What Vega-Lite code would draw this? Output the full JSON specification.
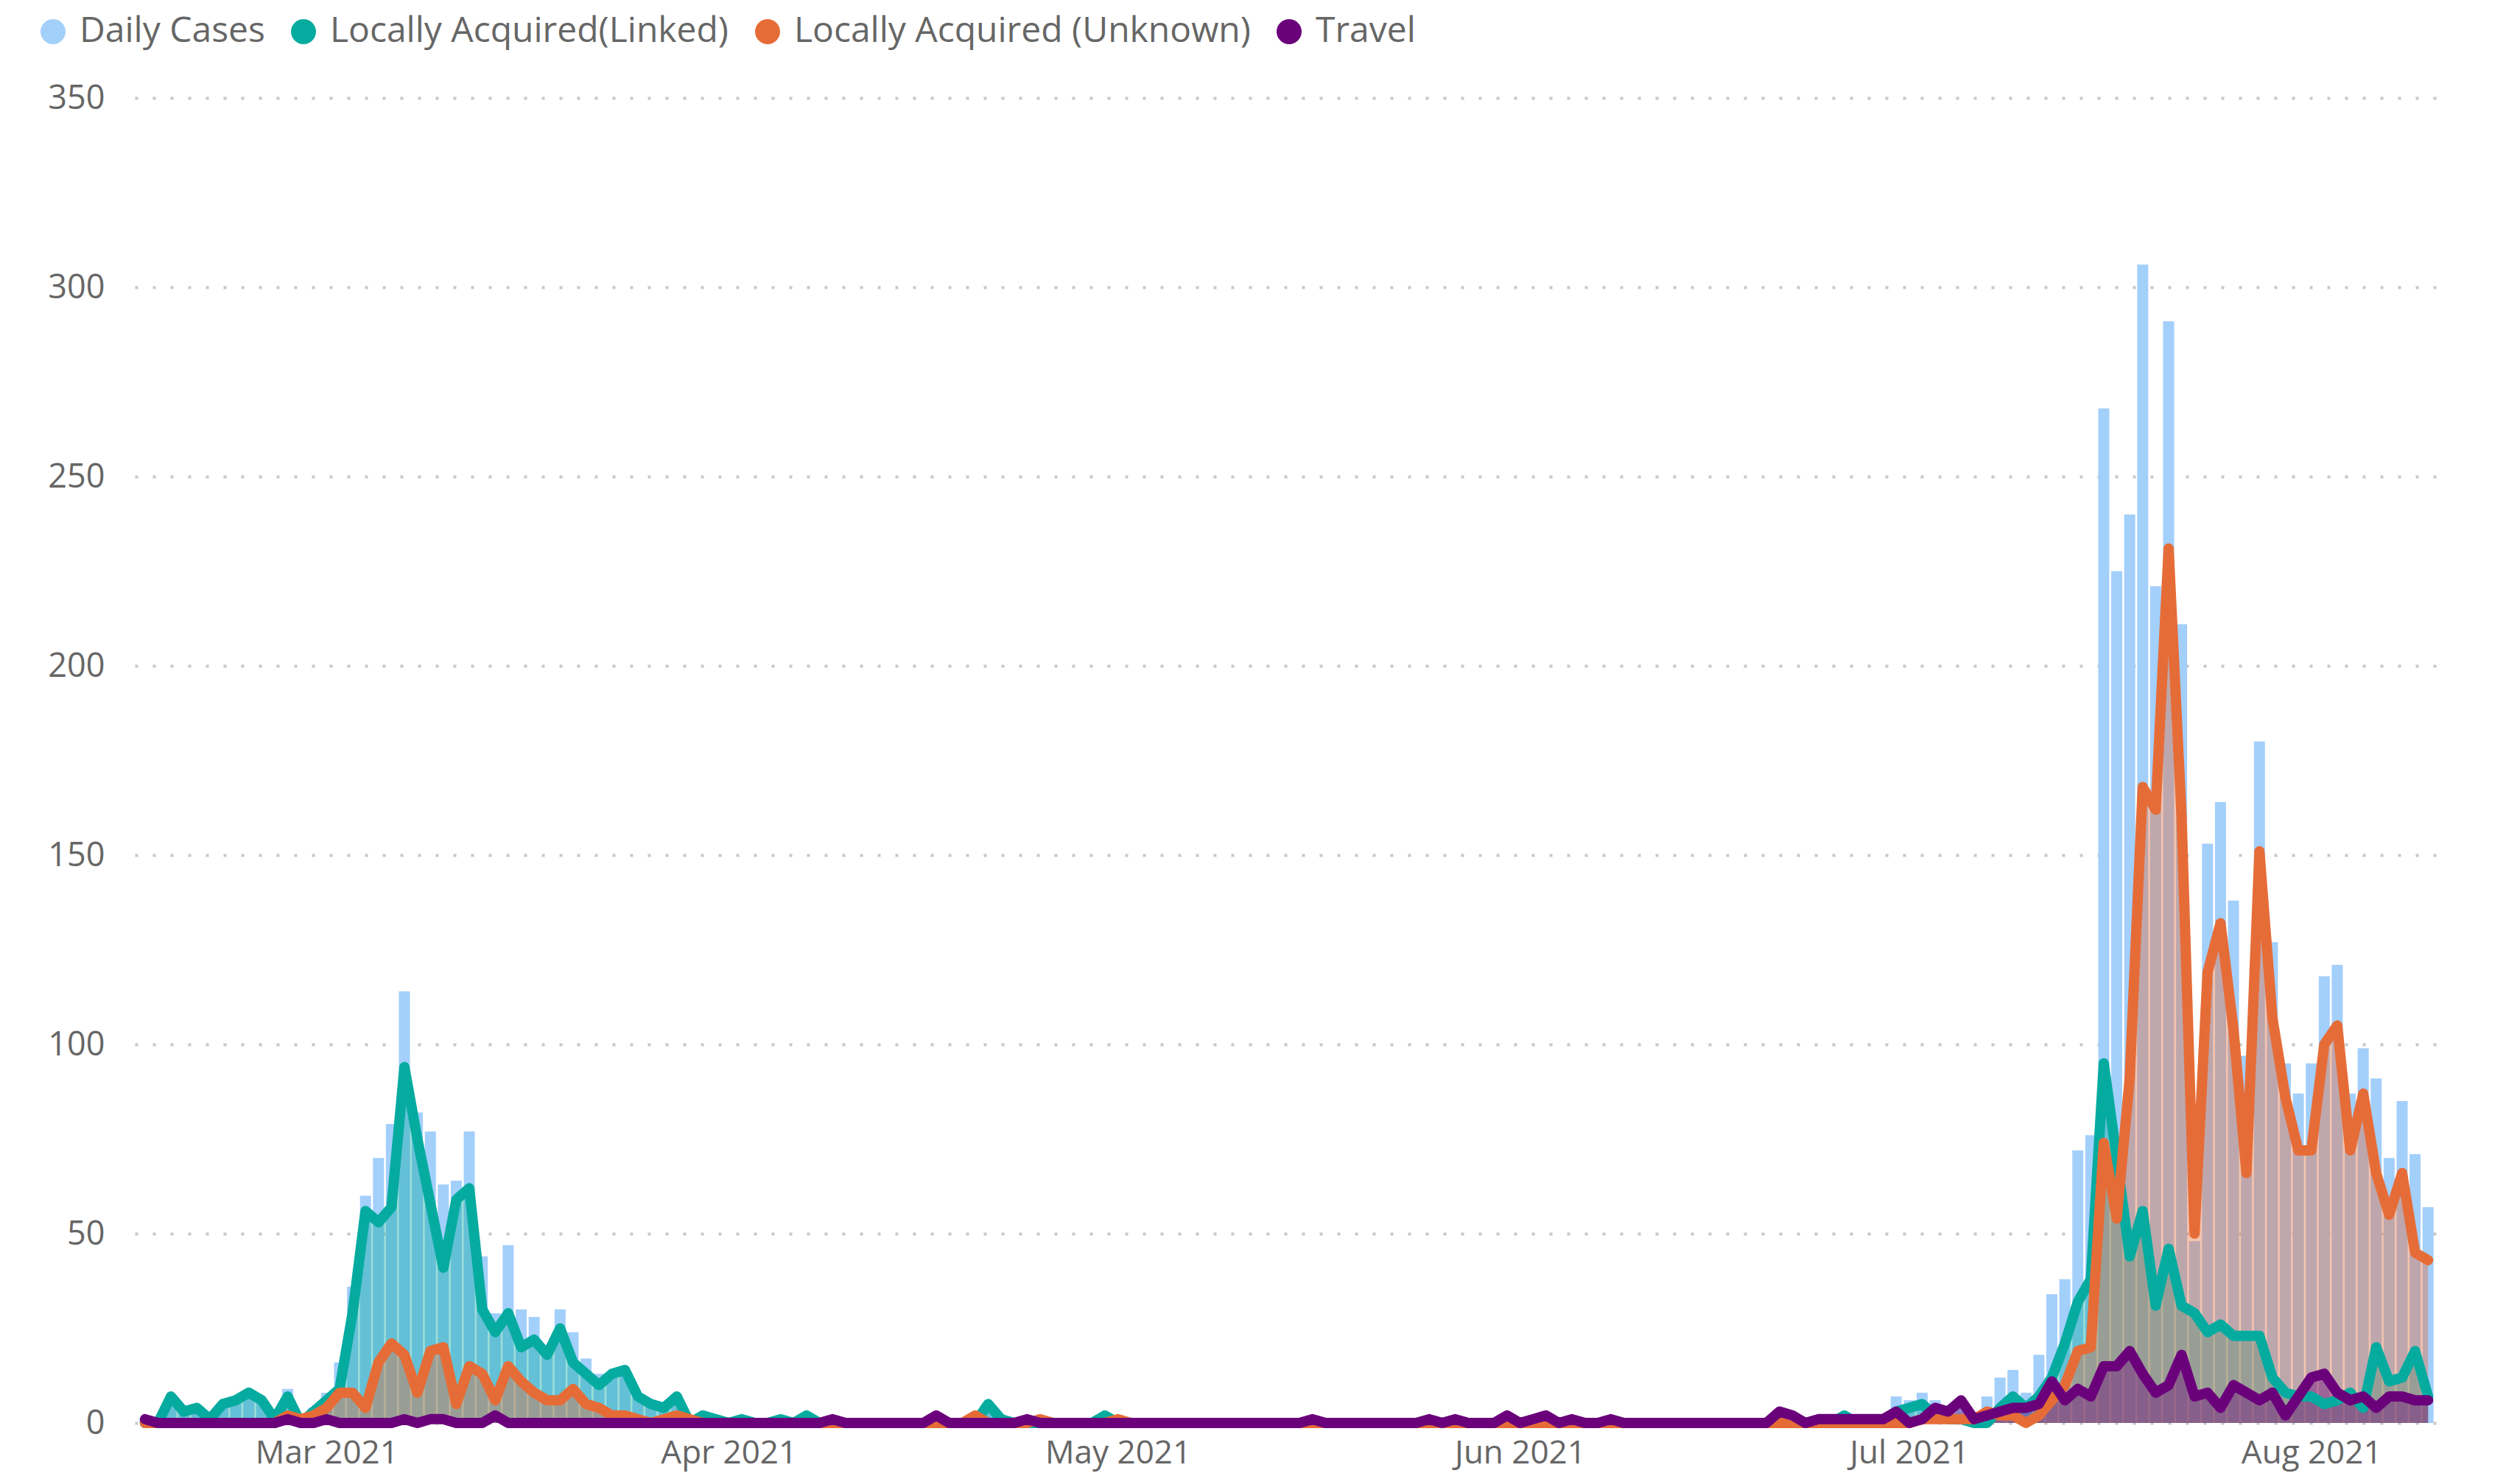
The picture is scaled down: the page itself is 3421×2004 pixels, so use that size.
{
  "$schema": "https://vega.github.io/schema/vega-lite/v6.json",
  "width": 3127,
  "height": 1799,
  "autosize": {"type": "none"},
  "padding": {"left": 183, "top": 133, "right": 111, "bottom": 72},
  "background": "white",
  "config": {"view": {"stroke": null}, "font": "Open Sans"},
  "data": {"values": [
    {"date":"2021/02/15","daily":1,"linked":0,"unknown":0,"travel":1},
    {"date":"2021/02/16","daily":0,"linked":0,"unknown":0,"travel":0},
    {"date":"2021/02/17","daily":7,"linked":7,"unknown":0,"travel":0},
    {"date":"2021/02/18","daily":3,"linked":3,"unknown":0,"travel":0},
    {"date":"2021/02/19","daily":4,"linked":4,"unknown":0,"travel":0},
    {"date":"2021/02/20","daily":1,"linked":1,"unknown":0,"travel":0},
    {"date":"2021/02/21","daily":5,"linked":5,"unknown":0,"travel":0},
    {"date":"2021/02/22","daily":6,"linked":6,"unknown":0,"travel":0},
    {"date":"2021/02/23","daily":8,"linked":8,"unknown":0,"travel":0},
    {"date":"2021/02/24","daily":6,"linked":6,"unknown":0,"travel":0},
    {"date":"2021/02/25","daily":1,"linked":1,"unknown":0,"travel":0},
    {"date":"2021/02/26","daily":9,"linked":7,"unknown":2,"travel":1},
    {"date":"2021/02/27","daily":1,"linked":0,"unknown":1,"travel":0},
    {"date":"2021/02/28","daily":4,"linked":3,"unknown":2,"travel":0},
    {"date":"2021/03/01","daily":8,"linked":6,"unknown":4,"travel":1},
    {"date":"2021/03/02","daily":16,"linked":9,"unknown":8,"travel":0},
    {"date":"2021/03/03","daily":36,"linked":29,"unknown":8,"travel":0},
    {"date":"2021/03/04","daily":60,"linked":56,"unknown":4,"travel":0},
    {"date":"2021/03/05","daily":70,"linked":53,"unknown":16,"travel":0},
    {"date":"2021/03/06","daily":79,"linked":57,"unknown":21,"travel":0},
    {"date":"2021/03/07","daily":114,"linked":94,"unknown":18,"travel":1},
    {"date":"2021/03/08","daily":82,"linked":75,"unknown":8,"travel":0},
    {"date":"2021/03/09","daily":77,"linked":58,"unknown":19,"travel":1},
    {"date":"2021/03/10","daily":63,"linked":41,"unknown":20,"travel":1},
    {"date":"2021/03/11","daily":64,"linked":59,"unknown":5,"travel":0},
    {"date":"2021/03/12","daily":77,"linked":62,"unknown":15,"travel":0},
    {"date":"2021/03/13","daily":44,"linked":30,"unknown":13,"travel":0},
    {"date":"2021/03/14","daily":29,"linked":24,"unknown":6,"travel":2},
    {"date":"2021/03/15","daily":47,"linked":29,"unknown":15,"travel":0},
    {"date":"2021/03/16","daily":30,"linked":20,"unknown":11,"travel":0},
    {"date":"2021/03/17","daily":28,"linked":22,"unknown":8,"travel":0},
    {"date":"2021/03/18","daily":18,"linked":18,"unknown":6,"travel":0},
    {"date":"2021/03/19","daily":30,"linked":25,"unknown":6,"travel":0},
    {"date":"2021/03/20","daily":24,"linked":16,"unknown":9,"travel":0},
    {"date":"2021/03/21","daily":17,"linked":13,"unknown":5,"travel":0},
    {"date":"2021/03/22","daily":13,"linked":10,"unknown":4,"travel":0},
    {"date":"2021/03/23","daily":13,"linked":13,"unknown":2,"travel":0},
    {"date":"2021/03/24","daily":14,"linked":14,"unknown":2,"travel":0},
    {"date":"2021/03/25","daily":7,"linked":7,"unknown":1,"travel":0},
    {"date":"2021/03/26","daily":5,"linked":5,"unknown":0,"travel":0},
    {"date":"2021/03/27","daily":4,"linked":4,"unknown":1,"travel":0},
    {"date":"2021/03/28","daily":7,"linked":7,"unknown":2,"travel":0},
    {"date":"2021/03/29","daily":1,"linked":0,"unknown":1,"travel":0},
    {"date":"2021/03/30","daily":2,"linked":2,"unknown":0,"travel":0},
    {"date":"2021/03/31","daily":1,"linked":1,"unknown":0,"travel":0},
    {"date":"2021/04/01","daily":0,"linked":0,"unknown":0,"travel":0},
    {"date":"2021/04/02","daily":1,"linked":1,"unknown":0,"travel":0},
    {"date":"2021/04/03","daily":0,"linked":0,"unknown":0,"travel":0},
    {"date":"2021/04/04","daily":0,"linked":0,"unknown":0,"travel":0},
    {"date":"2021/04/05","daily":1,"linked":1,"unknown":0,"travel":0},
    {"date":"2021/04/06","daily":0,"linked":0,"unknown":0,"travel":0},
    {"date":"2021/04/07","daily":2,"linked":2,"unknown":0,"travel":0},
    {"date":"2021/04/08","daily":0,"linked":0,"unknown":0,"travel":0},
    {"date":"2021/04/09","daily":1,"linked":0,"unknown":0,"travel":1},
    {"date":"2021/04/10","daily":0,"linked":0,"unknown":0,"travel":0},
    {"date":"2021/04/11","daily":0,"linked":0,"unknown":0,"travel":0},
    {"date":"2021/04/12","daily":0,"linked":0,"unknown":0,"travel":0},
    {"date":"2021/04/13","daily":0,"linked":0,"unknown":0,"travel":0},
    {"date":"2021/04/14","daily":0,"linked":0,"unknown":0,"travel":0},
    {"date":"2021/04/15","daily":0,"linked":0,"unknown":0,"travel":0},
    {"date":"2021/04/16","daily":0,"linked":0,"unknown":0,"travel":0},
    {"date":"2021/04/17","daily":2,"linked":0,"unknown":0,"travel":2},
    {"date":"2021/04/18","daily":0,"linked":0,"unknown":0,"travel":0},
    {"date":"2021/04/19","daily":0,"linked":0,"unknown":0,"travel":0},
    {"date":"2021/04/20","daily":2,"linked":0,"unknown":2,"travel":0},
    {"date":"2021/04/21","daily":5,"linked":5,"unknown":0,"travel":0},
    {"date":"2021/04/22","daily":1,"linked":1,"unknown":0,"travel":0},
    {"date":"2021/04/23","daily":0,"linked":0,"unknown":0,"travel":0},
    {"date":"2021/04/24","daily":1,"linked":0,"unknown":0,"travel":1},
    {"date":"2021/04/25","daily":1,"linked":0,"unknown":1,"travel":0},
    {"date":"2021/04/26","daily":0,"linked":0,"unknown":0,"travel":0},
    {"date":"2021/04/27","daily":0,"linked":0,"unknown":0,"travel":0},
    {"date":"2021/04/28","daily":0,"linked":0,"unknown":0,"travel":0},
    {"date":"2021/04/29","daily":0,"linked":0,"unknown":0,"travel":0},
    {"date":"2021/04/30","daily":2,"linked":2,"unknown":0,"travel":0},
    {"date":"2021/05/01","daily":1,"linked":0,"unknown":1,"travel":0},
    {"date":"2021/05/02","daily":0,"linked":0,"unknown":0,"travel":0},
    {"date":"2021/05/03","daily":0,"linked":0,"unknown":0,"travel":0},
    {"date":"2021/05/04","daily":0,"linked":0,"unknown":0,"travel":0},
    {"date":"2021/05/05","daily":0,"linked":0,"unknown":0,"travel":0},
    {"date":"2021/05/06","daily":0,"linked":0,"unknown":0,"travel":0},
    {"date":"2021/05/07","daily":0,"linked":0,"unknown":0,"travel":0},
    {"date":"2021/05/08","daily":0,"linked":0,"unknown":0,"travel":0},
    {"date":"2021/05/09","daily":0,"linked":0,"unknown":0,"travel":0},
    {"date":"2021/05/10","daily":0,"linked":0,"unknown":0,"travel":0},
    {"date":"2021/05/11","daily":0,"linked":0,"unknown":0,"travel":0},
    {"date":"2021/05/12","daily":0,"linked":0,"unknown":0,"travel":0},
    {"date":"2021/05/13","daily":0,"linked":0,"unknown":0,"travel":0},
    {"date":"2021/05/14","daily":0,"linked":0,"unknown":0,"travel":0},
    {"date":"2021/05/15","daily":0,"linked":0,"unknown":0,"travel":0},
    {"date":"2021/05/16","daily":1,"linked":0,"unknown":0,"travel":1},
    {"date":"2021/05/17","daily":0,"linked":0,"unknown":0,"travel":0},
    {"date":"2021/05/18","daily":0,"linked":0,"unknown":0,"travel":0},
    {"date":"2021/05/19","daily":0,"linked":0,"unknown":0,"travel":0},
    {"date":"2021/05/20","daily":0,"linked":0,"unknown":0,"travel":0},
    {"date":"2021/05/21","daily":0,"linked":0,"unknown":0,"travel":0},
    {"date":"2021/05/22","daily":0,"linked":0,"unknown":0,"travel":0},
    {"date":"2021/05/23","daily":0,"linked":0,"unknown":0,"travel":0},
    {"date":"2021/05/24","daily":0,"linked":0,"unknown":0,"travel":0},
    {"date":"2021/05/25","daily":1,"linked":0,"unknown":0,"travel":1},
    {"date":"2021/05/26","daily":0,"linked":0,"unknown":0,"travel":0},
    {"date":"2021/05/27","daily":1,"linked":0,"unknown":0,"travel":1},
    {"date":"2021/05/28","daily":0,"linked":0,"unknown":0,"travel":0},
    {"date":"2021/05/29","daily":0,"linked":0,"unknown":0,"travel":0},
    {"date":"2021/05/30","daily":0,"linked":0,"unknown":0,"travel":0},
    {"date":"2021/05/31","daily":2,"linked":0,"unknown":0,"travel":2},
    {"date":"2021/06/01","daily":0,"linked":0,"unknown":0,"travel":0},
    {"date":"2021/06/02","daily":1,"linked":0,"unknown":0,"travel":1},
    {"date":"2021/06/03","daily":2,"linked":0,"unknown":0,"travel":2},
    {"date":"2021/06/04","daily":0,"linked":0,"unknown":0,"travel":0},
    {"date":"2021/06/05","daily":1,"linked":0,"unknown":0,"travel":1},
    {"date":"2021/06/06","daily":0,"linked":0,"unknown":0,"travel":0},
    {"date":"2021/06/07","daily":0,"linked":0,"unknown":0,"travel":0},
    {"date":"2021/06/08","daily":1,"linked":0,"unknown":0,"travel":1},
    {"date":"2021/06/09","daily":0,"linked":0,"unknown":0,"travel":0},
    {"date":"2021/06/10","daily":0,"linked":0,"unknown":0,"travel":0},
    {"date":"2021/06/11","daily":0,"linked":0,"unknown":0,"travel":0},
    {"date":"2021/06/12","daily":0,"linked":0,"unknown":0,"travel":0},
    {"date":"2021/06/13","daily":0,"linked":0,"unknown":0,"travel":0},
    {"date":"2021/06/14","daily":0,"linked":0,"unknown":0,"travel":0},
    {"date":"2021/06/15","daily":0,"linked":0,"unknown":0,"travel":0},
    {"date":"2021/06/16","daily":0,"linked":0,"unknown":0,"travel":0},
    {"date":"2021/06/17","daily":0,"linked":0,"unknown":0,"travel":0},
    {"date":"2021/06/18","daily":0,"linked":0,"unknown":0,"travel":0},
    {"date":"2021/06/19","daily":0,"linked":0,"unknown":0,"travel":0},
    {"date":"2021/06/20","daily":0,"linked":0,"unknown":0,"travel":0},
    {"date":"2021/06/21","daily":3,"linked":0,"unknown":0,"travel":3},
    {"date":"2021/06/22","daily":2,"linked":0,"unknown":0,"travel":2},
    {"date":"2021/06/23","daily":0,"linked":0,"unknown":0,"travel":0},
    {"date":"2021/06/24","daily":1,"linked":0,"unknown":0,"travel":1},
    {"date":"2021/06/25","daily":1,"linked":0,"unknown":0,"travel":1},
    {"date":"2021/06/26","daily":2,"linked":2,"unknown":0,"travel":1},
    {"date":"2021/06/27","daily":1,"linked":0,"unknown":0,"travel":1},
    {"date":"2021/06/28","daily":1,"linked":0,"unknown":0,"travel":1},
    {"date":"2021/06/29","daily":1,"linked":0,"unknown":0,"travel":1},
    {"date":"2021/06/30","daily":7,"linked":3,"unknown":0,"travel":3},
    {"date":"2021/07/01","daily":6,"linked":4,"unknown":0,"travel":0},
    {"date":"2021/07/02","daily":8,"linked":5,"unknown":1,"travel":1},
    {"date":"2021/07/03","daily":6,"linked":2,"unknown":1,"travel":4},
    {"date":"2021/07/04","daily":4,"linked":1,"unknown":1,"travel":3},
    {"date":"2021/07/05","daily":6,"linked":1,"unknown":1,"travel":6},
    {"date":"2021/07/06","daily":2,"linked":0,"unknown":1,"travel":1},
    {"date":"2021/07/07","daily":7,"linked":0,"unknown":3,"travel":2},
    {"date":"2021/07/08","daily":12,"linked":4,"unknown":2,"travel":3},
    {"date":"2021/07/09","daily":14,"linked":7,"unknown":2,"travel":4},
    {"date":"2021/07/10","daily":8,"linked":4,"unknown":0,"travel":4},
    {"date":"2021/07/11","daily":18,"linked":7,"unknown":2,"travel":5},
    {"date":"2021/07/12","daily":34,"linked":12,"unknown":6,"travel":11},
    {"date":"2021/07/13","daily":38,"linked":21,"unknown":10,"travel":6},
    {"date":"2021/07/14","daily":72,"linked":32,"unknown":19,"travel":9},
    {"date":"2021/07/15","daily":76,"linked":38,"unknown":20,"travel":7},
    {"date":"2021/07/16","daily":268,"linked":95,"unknown":74,"travel":15},
    {"date":"2021/07/17","daily":225,"linked":70,"unknown":54,"travel":15},
    {"date":"2021/07/18","daily":240,"linked":44,"unknown":91,"travel":19},
    {"date":"2021/07/19","daily":306,"linked":56,"unknown":168,"travel":13},
    {"date":"2021/07/20","daily":221,"linked":31,"unknown":162,"travel":8},
    {"date":"2021/07/21","daily":291,"linked":46,"unknown":231,"travel":10},
    {"date":"2021/07/22","daily":211,"linked":31,"unknown":160,"travel":18},
    {"date":"2021/07/23","daily":48,"linked":29,"unknown":50,"travel":7},
    {"date":"2021/07/24","daily":153,"linked":24,"unknown":119,"travel":8},
    {"date":"2021/07/25","daily":164,"linked":26,"unknown":132,"travel":4},
    {"date":"2021/07/26","daily":138,"linked":23,"unknown":104,"travel":10},
    {"date":"2021/07/27","daily":97,"linked":23,"unknown":66,"travel":8},
    {"date":"2021/07/28","daily":180,"linked":23,"unknown":151,"travel":6},
    {"date":"2021/07/29","daily":127,"linked":12,"unknown":107,"travel":8},
    {"date":"2021/07/30","daily":95,"linked":8,"unknown":86,"travel":2},
    {"date":"2021/07/31","daily":87,"linked":7,"unknown":72,"travel":7},
    {"date":"2021/08/01","daily":95,"linked":7,"unknown":72,"travel":12},
    {"date":"2021/08/02","daily":118,"linked":5,"unknown":100,"travel":13},
    {"date":"2021/08/03","daily":121,"linked":6,"unknown":105,"travel":8},
    {"date":"2021/08/04","daily":87,"linked":8,"unknown":72,"travel":6},
    {"date":"2021/08/05","daily":99,"linked":4,"unknown":87,"travel":7},
    {"date":"2021/08/06","daily":91,"linked":20,"unknown":66,"travel":4},
    {"date":"2021/08/07","daily":70,"linked":11,"unknown":55,"travel":7},
    {"date":"2021/08/08","daily":85,"linked":12,"unknown":66,"travel":7},
    {"date":"2021/08/09","daily":71,"linked":19,"unknown":45,"travel":6},
    {"date":"2021/08/10","daily":57,"linked":7,"unknown":43,"travel":6}
  ]},
  "encoding": {
    "x": {
      "field": "date",
      "type": "temporal",
      "title": null,
      "scale": {"domain": [
        {"year": 2021, "month": "feb", "date": 14, "hours": 12},
        {"year": 2021, "month": "aug", "date": 10, "hours": 12}
      ]},
      "axis": {
        "values": [
          {"year": 2021, "month": "mar", "date": 1},
          {"year": 2021, "month": "apr", "date": 1},
          {"year": 2021, "month": "may", "date": 1},
          {"year": 2021, "month": "jun", "date": 1},
          {"year": 2021, "month": "jul", "date": 1},
          {"year": 2021, "month": "aug", "date": 1}
        ],
        "format": "%b %Y",
        "labelFontSize": 44,
        "labelColor": "#666666",
        "labelPadding": 19,
        "labelFlush": false,
        "labelLimit": 1000,
        "labelOverlap": false,
        "ticks": false,
        "domain": false,
        "grid": false
      }
    }
  },
  "layer": [
    {
      "mark": {"type": "bar", "width": 15},
      "encoding": {
        "y": {
          "field": "daily",
          "type": "quantitative",
          "title": null,
          "scale": {"domain": [0, 350], "nice": false},
          "axis": {
            "values": [0, 50, 100, 150, 200, 250, 300, 350],
            "labelFontSize": 45,
            "labelColor": "#666666",
            "labelPadding": 41,
            "labelLimit": 1000,
            "ticks": false,
            "domain": false,
            "grid": true,
            "gridColor": "#C8C8C8",
            "gridDash": [4, 20],
            "gridWidth": 4
          }
        },
        "color": {
          "datum": "daily",
          "type": "nominal",
          "scale": {
            "domain": ["daily", "linked", "unknown", "travel"],
            "range": ["#A3CFFB", "#06ABA0", "#E66C37", "#6B007B"]
          },
          "legend": {
            "orient": "none",
            "direction": "horizontal",
            "columns": 4,
            "legendX": -135,
            "legendY": -114,
            "title": null,
            "padding": 0,
            "symbolType": "circle",
            "symbolSize": 1156,
            "symbolOpacity": 1,
            "symbolStrokeWidth": 0,
            "labelFontSize": 48,
            "labelColor": "#666666",
            "labelOffset": 12,
            "columnPadding": 28,
            "labelLimit": 1000,
            "labelExpr": "datum.value == 'daily' ? 'Daily Cases' : datum.value == 'linked' ? 'Locally Acquired(Linked)' : datum.value == 'unknown' ? 'Locally Acquired (Unknown)' : 'Travel'"
          }
        }
      }
    },
    {
      "transform": [{"fold": ["linked", "unknown", "travel"], "as": ["series", "value"]}],
      "mark": {"type": "area", "opacity": 0.4},
      "encoding": {
        "y": {"field": "value", "type": "quantitative", "stack": null, "title": null},
        "color": {"field": "series", "type": "nominal", "legend": null}
      }
    },
    {
      "transform": [{"fold": ["linked", "unknown", "travel"], "as": ["series", "value"]}],
      "mark": {"type": "line", "strokeWidth": 14, "strokeJoin": "round", "strokeCap": "round"},
      "encoding": {
        "y": {"field": "value", "type": "quantitative", "title": null},
        "color": {"field": "series", "type": "nominal", "legend": null}
      }
    }
  ]
}
